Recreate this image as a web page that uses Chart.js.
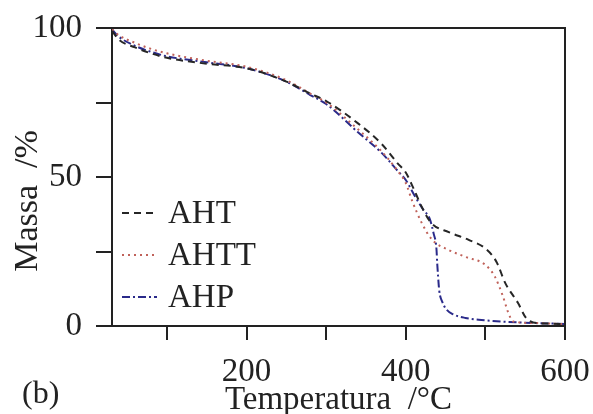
<!DOCTYPE html>
<html>
<head>
<meta charset="utf-8">
<script src="https://cdn.jsdelivr.net/npm/chart.js@4"></script>
<style>
  html, body { margin: 0; padding: 0; background: #fff; }
  #wrap { width: 593px; height: 414px; }
</style>
</head>
<body>
<div id="wrap"><canvas id="canvasDiv" width="593" height="414"></canvas></div>
<script>
//data
const ahtT = [31, 40, 60, 80, 100, 150, 200, 250, 280, 300, 340, 370, 390, 400, 410, 420, 432, 454, 479, 500, 514, 525, 541, 551, 560, 580, 600];
const ahtM = [99, 96, 93.5, 91.5, 90, 88, 86.5, 82, 78, 75.5, 68, 61, 54.5, 51.5, 46, 40, 34.6, 31.5, 28.9, 26, 21.5, 14.4, 7.7, 2.7, 1.2, 0.8, 0.6];
const ahttT = [31, 40, 60, 80, 100, 150, 200, 250, 280, 300, 340, 370, 390, 400, 408, 420, 433, 454, 475, 500, 512, 522, 529, 535, 560, 600];
const ahttM = [99.5, 97.5, 95, 93, 91.5, 89, 87, 82.5, 78, 75, 66, 58.5, 52, 48, 42, 34.6, 29, 25.5, 23.2, 20.5, 16.5, 10, 4.3, 1.5, 1, 0.6];
const ahpT = [31, 40, 60, 80, 100, 150, 200, 250, 280, 300, 340, 370, 390, 400, 412, 422, 430, 435, 438.5, 439.5, 440.5, 442, 446, 451, 459, 475, 495, 520, 560, 600];
const ahpM = [99.5, 97, 94, 92, 90.5, 88.5, 86.5, 82, 77.5, 74.5, 65, 58, 52, 49, 43.3, 39, 36, 31, 26, 21, 17, 12, 8, 5.6, 4, 2.7, 2, 1.5, 1, 0.7];
const xTickLabels = [200, 400, 600];
const yTickLabels = [0, 50, 100];

const serif = "'Liberation Serif', 'DejaVu Serif', serif";

function pts(xs, ys) {
  return xs.map((x, i) => ({ x: x, y: ys[i] }));
}

//frame, legend, y title and panel letter
const extras = {
  id: "extras",
  afterDraw(chart) {
    const ctx = chart.ctx;
    const a = chart.chartArea;
    ctx.save();
    ctx.strokeStyle = "#222";
    ctx.lineWidth = 2;
    ctx.beginPath();
    ctx.moveTo(a.left, a.top);
    ctx.lineTo(a.right, a.top);
    ctx.lineTo(a.right, a.bottom);
    ctx.stroke();

    //legend
    ctx.font = "33px " + serif;
    ctx.textBaseline = "middle";
    ctx.textAlign = "left";
    chart.data.datasets.forEach((ds, i) => {
      const y = a.top + 185 + i * 42;
      ctx.strokeStyle = ds.borderColor;
      ctx.lineWidth = 2;
      ctx.setLineDash(ds.borderDash);
      ctx.beginPath();
      ctx.moveTo(a.left + 10, y);
      ctx.lineTo(a.left + 45, y);
      ctx.stroke();
      ctx.setLineDash([]);
      ctx.fillStyle = "#222";
      ctx.fillText(ds.label, a.left + 56, y + 1);
    });

    //y title
    ctx.save();
    ctx.translate(28, 201);
    ctx.rotate(-Math.PI / 2);
    ctx.textAlign = "center";
    ctx.font = "34px " + serif;
    ctx.fillText("Massa  /%", 0, 0);
    ctx.restore();

    ctx.font = "32px " + serif;
    ctx.fillText("(b)", 22, 395);
    ctx.restore();
  },
};

new Chart(document.getElementById("canvasDiv"), {
  type: "line",
  data: {
    datasets: [
      { label: "AHT", data: pts(ahtT, ahtM), borderColor: "#262626", borderDash: [7, 5] },
      { label: "AHTT", data: pts(ahttT, ahttM), borderColor: "#c0625a", borderDash: [2, 4] },
      { label: "AHP", data: pts(ahpT, ahpM), borderColor: "#2a2a8a", borderDash: [8, 3, 2, 3] },
    ],
  },
  options: {
    responsive: false,
    animation: false,
    layout: { padding: { top: 28, right: 28, left: 0, bottom: 0 } },
    elements: {
      point: { radius: 0 },
      line: { borderWidth: 2, cubicInterpolationMode: "monotone", fill: false },
    },
    plugins: { legend: { display: false }, tooltip: { enabled: false } },
    scales: {
      x: {
        type: "linear",
        min: 31,
        max: 600,
        afterBuildTicks: (s) => {
          s.ticks = [100, 200, 300, 400, 500, 600].map((v) => ({ value: v }));
        },
        afterFit: (s) => {
          s.height = 88;
          s.paddingLeft = 0;
          s.paddingRight = 0;
        },
        border: { display: true, color: "#222", width: 2 },
        grid: { drawOnChartArea: false, drawTicks: true, tickLength: 14, color: "#222", lineWidth: 2 },
        ticks: {
          color: "#222",
          padding: 13,
          maxRotation: 0,
          autoSkip: false,
          font: { family: serif, size: 33 },
          callback: (v) => (xTickLabels.includes(v) ? String(v) : ""),
        },
        title: {
          display: true,
          text: "Temperatura  /°C",
          color: "#222",
          font: { family: serif, size: 33 },
          padding: { top: 0, bottom: -6 },
        },
      },
      y: {
        min: 0,
        max: 100,
        afterBuildTicks: (s) => {
          s.ticks = [0, 25, 50, 75, 100].map((v) => ({ value: v }));
        },
        afterFit: (s) => {
          s.width = 112;
          s.paddingTop = 0;
          s.paddingBottom = 0;
        },
        border: { display: true, color: "#222", width: 2 },
        grid: { drawOnChartArea: false, drawTicks: true, tickLength: 16, color: "#222", lineWidth: 2 },
        ticks: {
          color: "#222",
          padding: 14,
          font: { family: serif, size: 33 },
          callback: (v) => (yTickLabels.includes(v) ? String(v) : ""),
        },
        title: { display: false },
      },
    },
  },
  plugins: [extras],
});
</script>
</body>
</html>
